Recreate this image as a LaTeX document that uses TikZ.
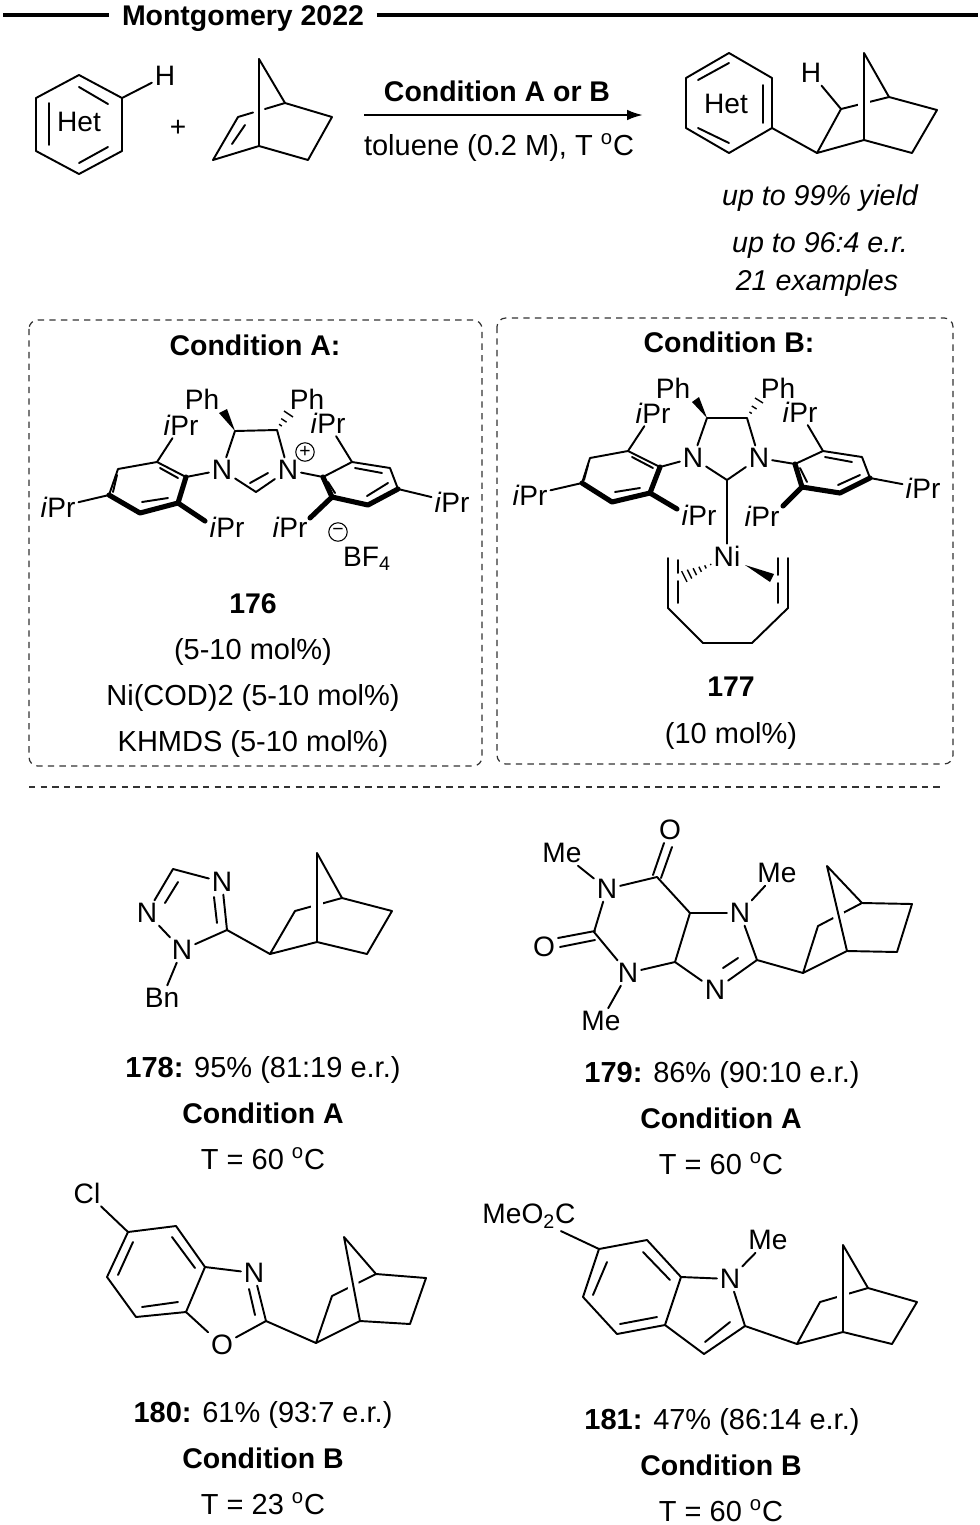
\documentclass[tikz,border=0pt]{standalone}
\usepackage{fontspec}
\setmainfont{Liberation Sans}
\usetikzlibrary{arrows.meta,calc}
\tikzset{
  bond/.style={line width=1.1pt,line join=round,line cap=round},
  boldbond/.style={line width=2.9pt,line join=round,line cap=round},
  atom/.style={font=\fontsize{16}{18}\selectfont,inner sep=1.5pt},
  txt/.style={font=\fontsize{16.5}{19}\selectfont,inner sep=0pt,text height=11.8pt,text depth=0pt},
  txtb/.style={font=\fontsize{16.2}{19}\selectfont\bfseries,inner sep=0pt,text height=11.6pt,text depth=0pt},
  txti/.style={font=\fontsize{16.3}{19}\selectfont\itshape,inner sep=0pt,text height=11.7pt,text depth=0pt},
  condbox/.style={line width=0.7pt,draw=black!80,dash pattern=on 3.6pt off 3pt,rounded corners=5pt},
  titlerule/.style={line width=2.6pt},
  charge/.style={circle,draw,line width=0.6pt,minimum size=10.5pt,inner sep=0pt,font=\fontsize{11}{11}\selectfont}
}
% norbornane: C2, C3, top, bridgehead, right, lower right, bridgehead
\newcommand{\norb}[7]{
  \draw[bond] #2 -- #4;
  \draw[white,line width=6.5pt,shorten <=10pt,shorten >=10pt] #3 -- #7;
  \draw[bond] #2 -- #1 -- #7 -- #6 -- #5 -- #4 -- #3 -- #7;
}
\newcommand{\wedgebond}[3]{\fill #1 -- #2 -- #3 -- cycle;}
\newcommand{\hashbond}[4]{
  \foreach \t in {#4} \draw[line width=0.8pt] ($#1!\t!#2$) -- ($#1!\t!#3$);
}
\newcommand{\ipr}{\textit{i}Pr}
\newcommand{\degC}{\textsuperscript{o}C}
\begin{document}
\begin{tikzpicture}[x=0.02cm,y=-0.02cm]
  \useasboundingbox (0,0) rectangle (980,1525);

  % title
  \node[txtb,inner xsep=7pt] (title) at (243,15) {Montgomery 2022};
  \coordinate (ruleL) at (3,15);
  \coordinate (ruleR) at (978,15);
  \draw[titlerule] (ruleL) -- (title.west);
  \draw[titlerule] (title.east) -- (ruleR);

  % reaction, substrates
  \node[atom] (hetA) at (79,122) {Het};
  \node[atom] (hA) at (165,76) {H};
  \coordinate (hexA) at (122,98);
  \draw[bond] (79,75) -- (hexA) -- (122,151) -- (79,174) -- (36,151) -- (36,98) -- cycle;
  \draw[bond] (49,103) -- (49,145) (79,87) -- (108,104) (79,163) -- (108,147);
  \draw[bond] (hexA) -- (hA);
  \node[atom] (plus) at (178,128) {+};
  \draw[bond] (259,59) -- (285,103) -- (332,117) -- (308,160) -- (259,146) -- (213,160) -- (238,117) -- (253,112.5);
  \draw[bond] (265,109) -- (285,103);
  \draw[bond] (259,59) -- (259,146);
  \draw[bond] (232,144) -- (245,125);

  % arrow
  \coordinate (arrowS) at (364,115);
  \coordinate (arrowE) at (643,115);
  \draw[line width=1.3pt,-{Latex[length=9pt,width=6pt]}] (arrowS) -- (arrowE);
  \node[txtb] (condAB) at (497,91) {Condition A or B};
  \node[txt] (solvent) at (499,145) {toluene (0.2 M), T \degC};

  % product
  \node[atom] (hetP) at (726,104) {Het};
  \node[atom] (hP) at (811,73) {H};
  \coordinate (hexP) at (772,128);
  \coordinate (prodC) at (817,153);
  \coordinate (prodH) at (841,109);
  \draw[bond] (729,53) -- (772,78) -- (hexP) -- (729,153) -- (686,128) -- (686,78) -- cycle;
  \draw[bond] (763,85) -- (763,123) (729,63) -- (698,80) (729,143) -- (698,128);
  \draw[bond] (hexP) -- (prodC);
  \norb{(prodC)}{(prodH)}{(864,53)}{(889,97)}{(937,110)}{(912,153)}{(864,140)}
  \draw[bond] (prodH) -- (hP);
  \node[txti] (yield) at (820,195) {up to 99\% yield};
  \node[txti] (er) at (820,242) {up to 96:4 e.r.};
  \node[txti] (scope) at (817,280) {21 examples};

  % boxes
  \draw[condbox] (29,320) rectangle (482,766);
  \draw[condbox] (497,318) rectangle (953,764);
  \coordinate (sepL) at (29,787);
  \coordinate (sepR) at (945,787);
  \draw[line width=0.7pt,black!80,dash pattern=on 3.6pt off 3pt] (sepL) -- (sepR);

  % condition A, 176
  \node[txtb] (condA) at (255,345) {Condition A:};
  \node[atom] (aN1) at (222,470) {N};
  \node[atom] (aN2) at (288,470) {N};
  \coordinate (aC4) at (235,431);
  \coordinate (aC5) at (277,430);
  \coordinate (aC2) at (256,492);
  \coordinate (aIpL) at (186,477);
  \coordinate (aIpR) at (323,477);
  \draw[bond] (aN1) -- (aC4) -- (aC5) -- (aN2);
  \draw[bond] (aN1) -- (aC2) -- (aN2);
  \draw[bond] (250,483) -- (268,473);
  \draw[bond] (aN1) -- (aIpL) -- (157,462) -- (118,469) -- (109,495);
  \draw[boldbond] (109,495) -- (140,513) -- (178,503) -- (aIpL);
  \draw[boldbond] (178,503) -- (205,521);
  \draw[bond] (160,468) -- (178,478) (117,475) -- (113,492) (142,502) -- (168,498);
  \draw[bond] (aN2) -- (aIpR) -- (352,462) -- (390,468) -- (398,489);
  \draw[boldbond] (398,489) -- (368,505) -- (332,497) -- (aIpR);
  \draw[boldbond] (332,497) -- (310,518);
  \draw[bond] (355,468) -- (382,473) (388,483) -- (367,496) (328,482) -- (335,493);
  \node[atom] (aPr1) at (181,425) {\ipr};
  \node[atom] (aPr2) at (58,507) {\ipr};
  \node[atom] (aPr3) at (227,527) {\ipr};
  \node[atom] (aPr4) at (328,423) {\ipr};
  \node[atom] (aPr5) at (452,502) {\ipr};
  \node[atom] (aPr6) at (290,527) {\ipr};
  \coordinate (aOL) at (157,462);
  \coordinate (aPL) at (109,495);
  \coordinate (aOR) at (352,462);
  \coordinate (aPR) at (398,489);
  \draw[bond] (aOL) -- (aPr1);
  \draw[bond] (aPL) -- (aPr2);
  \draw[bond] (aOR) -- (aPr4);
  \draw[bond] (aPR) -- (aPr5);
  \node[atom] (aPh1) at (202,399) {Ph};
  \node[atom] (aPh2) at (307,399) {Ph};
  \wedgebond{(aC4)}{(219,413)}{(227,409)}
  \hashbond{(aC5)}{(284,411)}{(293,417)}{0.3,0.6,1}
  \node[charge] (aPlus) at (305,452) {+};
  \node[charge] (aMinus) at (338,532) {−};
  \node[atom] (aBF) at (367,559) {BF\textsubscript{4}};
  \node[txtb] (n176) at (253,603) {176};
  \node[txt] (aL1) at (253,649) {(5-10 mol\%)};
  \node[txt] (aL2) at (253,695) {Ni(COD)2 (5-10 mol\%)};
  \node[txt] (aL3) at (253,741) {KHMDS (5-10 mol\%)};

  % condition B, 177
  \node[txtb] (condB) at (729,342) {Condition B:};
  \node[atom] (bN1) at (693,458) {N};
  \node[atom] (bN2) at (759,458) {N};
  \node[atom,inner sep=1pt] (bNi) at (727,556) {Ni};
  \coordinate (bC4) at (707,418);
  \coordinate (bC5) at (747,418);
  \coordinate (bC2) at (727,480);
  \coordinate (bIpL) at (660,467);
  \coordinate (bIpR) at (795,464);
  \draw[bond] (bN1) -- (bC4) -- (bC5) -- (bN2);
  \draw[bond] (bN1) -- (bC2) -- (bN2);
  \draw[bond] (bC2) -- (bNi);
  \draw[bond] (bN1) -- (bIpL) -- (628,451) -- (590,458) -- (582,483);
  \draw[boldbond] (582,483) -- (612,502) -- (650,493) -- (bIpL);
  \draw[boldbond] (650,493) -- (677,509);
  \draw[bond] (632,457) -- (653,468) (588,465) -- (584,480) (615,492) -- (640,488);
  \draw[bond] (bN2) -- (bIpR) -- (823,451) -- (862,457) -- (870,478);
  \draw[boldbond] (870,478) -- (840,493) -- (802,487) -- (bIpR);
  \draw[boldbond] (802,487) -- (783,506);
  \draw[bond] (825,457) -- (852,462) (860,475) -- (838,485) (800,468) -- (807,482);
  \node[atom] (bPr1) at (653,413) {\ipr};
  \node[atom] (bPr2) at (530,495) {\ipr};
  \node[atom] (bPr3) at (699,515) {\ipr};
  \node[atom] (bPr4) at (800,412) {\ipr};
  \node[atom] (bPr5) at (923,488) {\ipr};
  \node[atom] (bPr6) at (762,516) {\ipr};
  \coordinate (bOL) at (628,451);
  \coordinate (bPL) at (582,483);
  \coordinate (bOR) at (823,451);
  \coordinate (bPR) at (870,478);
  \draw[bond] (bOL) -- (bPr1);
  \draw[bond] (bPL) -- (bPr2);
  \draw[bond] (bOR) -- (bPr4);
  \draw[bond] (bPR) -- (bPr5);
  \node[atom] (bPh1) at (673,388) {Ph};
  \node[atom] (bPh2) at (778,388) {Ph};
  \wedgebond{(bC4)}{(692,402)}{(699,397)}
  \hashbond{(bC5)}{(755,398)}{(763,403)}{0.3,0.6,1}
  % COD
  \draw[bond] (668,558) -- (668,608) -- (703,643) -- (752,643) -- (788,608) -- (788,558);
  \draw[bond] (678,560) -- (678,573) (678,581) -- (678,603);
  \draw[bond] (778,558) -- (778,575) (778,583) -- (778,603);
  \hashbond{(714,563)}{(678,572)}{(684,584)}{0.1,0.26,0.42,0.58,0.74,0.9}
  \wedgebond{(745,565)}{(770,582)}{(774,574)}
  \node[txtb] (n177) at (731,686) {177};
  \node[txt] (bL1) at (731,733) {(10 mol\%)};

  % 178
  \node[atom] (cN4) at (222,882) {N};
  \node[atom] (cN2) at (147,913) {N};
  \node[atom] (cN1) at (182,950) {N};
  \node[atom] (cBn) at (162,998) {Bn};
  \coordinate (cC5) at (227,930);
  \coordinate (cC3) at (173,869);
  \coordinate (cC2) at (270,954);
  \draw[bond] (cC5) -- (cN1) -- (cN2) -- (cC3) -- (cN4) -- (cC5);
  \draw[bond] (165,903) -- (178,882) (214,897) -- (217,923);
  \draw[bond] (cN1) -- (cBn);
  \draw[bond] (cC5) -- (cC2);
  \norb{(cC2)}{(295,911)}{(317,853)}{(342,898)}{(392,911)}{(367,954)}{(317,942)}
  \node[txt] (cL1) at (263,1067) {\textbf{178:} 95\% (81:19 e.r.)};
  \node[txtb] (cL2) at (263,1113) {Condition A};
  \node[txt] (cL3) at (263,1159) {T = 60 \degC};

  % 179
  \node[atom] (dO6) at (670,830) {O};
  \node[atom] (dO2) at (544,947) {O};
  \node[atom] (dN1) at (607,889) {N};
  \node[atom] (dN3) at (628,973) {N};
  \node[atom] (dN7) at (740,913) {N};
  \node[atom] (dN9) at (715,990) {N};
  \node[atom] (dMe1) at (562,853) {Me};
  \node[atom] (dMe3) at (601,1021) {Me};
  \node[atom] (dMe7) at (777,873) {Me};
  \coordinate (dC6) at (657,877);
  \coordinate (dC2) at (594,932);
  \coordinate (dC4) at (675,962);
  \coordinate (dC5) at (690,913);
  \coordinate (dC8) at (757,960);
  \coordinate (dCn) at (803,973);
  \draw[bond] (dN1) -- (dC6) -- (dC5) -- (dC4) -- (dN3) -- (dC2) -- (dN1);
  \draw[bond] (dC5) -- (dN7) -- (dC8) -- (dN9) -- (dC4);
  \draw[bond] (738,958) -- (723,968);
  \draw[bond] (653,875) -- (664,843) (661,878) -- (672,847);
  \draw[bond] (595,931) -- (558,938) (595,940) -- (560,947);
  \draw[bond] (dN1) -- (dMe1);
  \draw[bond] (dN3) -- (dMe3);
  \draw[bond] (dN7) -- (dMe7);
  \draw[bond] (dC8) -- (dCn);
  \norb{(dCn)}{(818,926)}{(827,866)}{(862,903)}{(912,904)}{(897,952)}{(847,951)}
  \node[txt] (dL1) at (722,1072) {\textbf{179:} 86\% (90:10 e.r.)};
  \node[txtb] (dL2) at (721,1118) {Condition A};
  \node[txt] (dL3) at (721,1164) {T = 60 \degC};

  % 180
  \node[atom] (eCl) at (87,1193) {Cl};
  \node[atom] (eN) at (254,1273) {N};
  \node[atom] (eO) at (222,1345) {O};
  \coordinate (eC5) at (128,1232);
  \coordinate (eC3a) at (205,1267);
  \coordinate (eC7a) at (186,1312);
  \coordinate (eC2) at (266,1321);
  \coordinate (eCn) at (316,1343);
  \draw[bond] (eC5) -- (176,1226) -- (eC3a) -- (eC7a) -- (136,1317) -- (107,1277) -- cycle;
  \draw[bond] (172,1237) -- (195,1268) (142,1307) -- (178,1302) (118,1275) -- (133,1242);
  \draw[bond] (eCl) -- (eC5);
  \draw[bond] (eC3a) -- (eN) -- (eC2) -- (eO) -- (eC7a);
  \draw[bond] (249,1289) -- (255,1315);
  \draw[bond] (eC2) -- (eCn);
  \norb{(eCn)}{(332,1296)}{(344,1237)}{(376,1274)}{(426,1278)}{(410,1324)}{(360,1321)}
  \node[txt] (eL1) at (263,1412) {\textbf{180:} 61\% (93:7 e.r.)};
  \node[txtb] (eL2) at (263,1458) {Condition B};
  \node[txt] (eL3) at (263,1504) {T = 23 \degC};

  % 181
  \node[atom] (fEs) at (529,1216) {MeO\textsubscript{2}C};
  \node[atom] (fN) at (730,1279) {N};
  \node[atom] (fMe) at (768,1240) {Me};
  \coordinate (fC6) at (599,1249);
  \coordinate (fC7a) at (681,1277);
  \coordinate (fC2) at (745,1326);
  \coordinate (fCn) at (797,1344);
  \draw[bond] (fC6) -- (647,1240) -- (fC7a) -- (665,1325) -- (617,1334) -- (583,1297) -- cycle;
  \draw[bond] (643,1252) -- (670,1280) (620,1324) -- (657,1317) (593,1295) -- (607,1262);
  \draw[bond] (fEs) -- (fC6);
  \draw[bond] (fC7a) -- (fN) -- (fC2) -- (704,1354) -- (665,1325);
  \draw[bond] (730,1322) -- (705,1342);
  \draw[bond] (fN) -- (fMe);
  \draw[bond] (fC2) -- (fCn);
  \norb{(fCn)}{(820,1302)}{(843,1245)}{(868,1288)}{(917,1302)}{(892,1344)}{(843,1332)}
  \node[txt] (fL1) at (722,1419) {\textbf{181:} 47\% (86:14 e.r.)};
  \node[txtb] (fL2) at (721,1465) {Condition B};
  \node[txt] (fL3) at (721,1511) {T = 60 \degC};
\end{tikzpicture}
\end{document}
